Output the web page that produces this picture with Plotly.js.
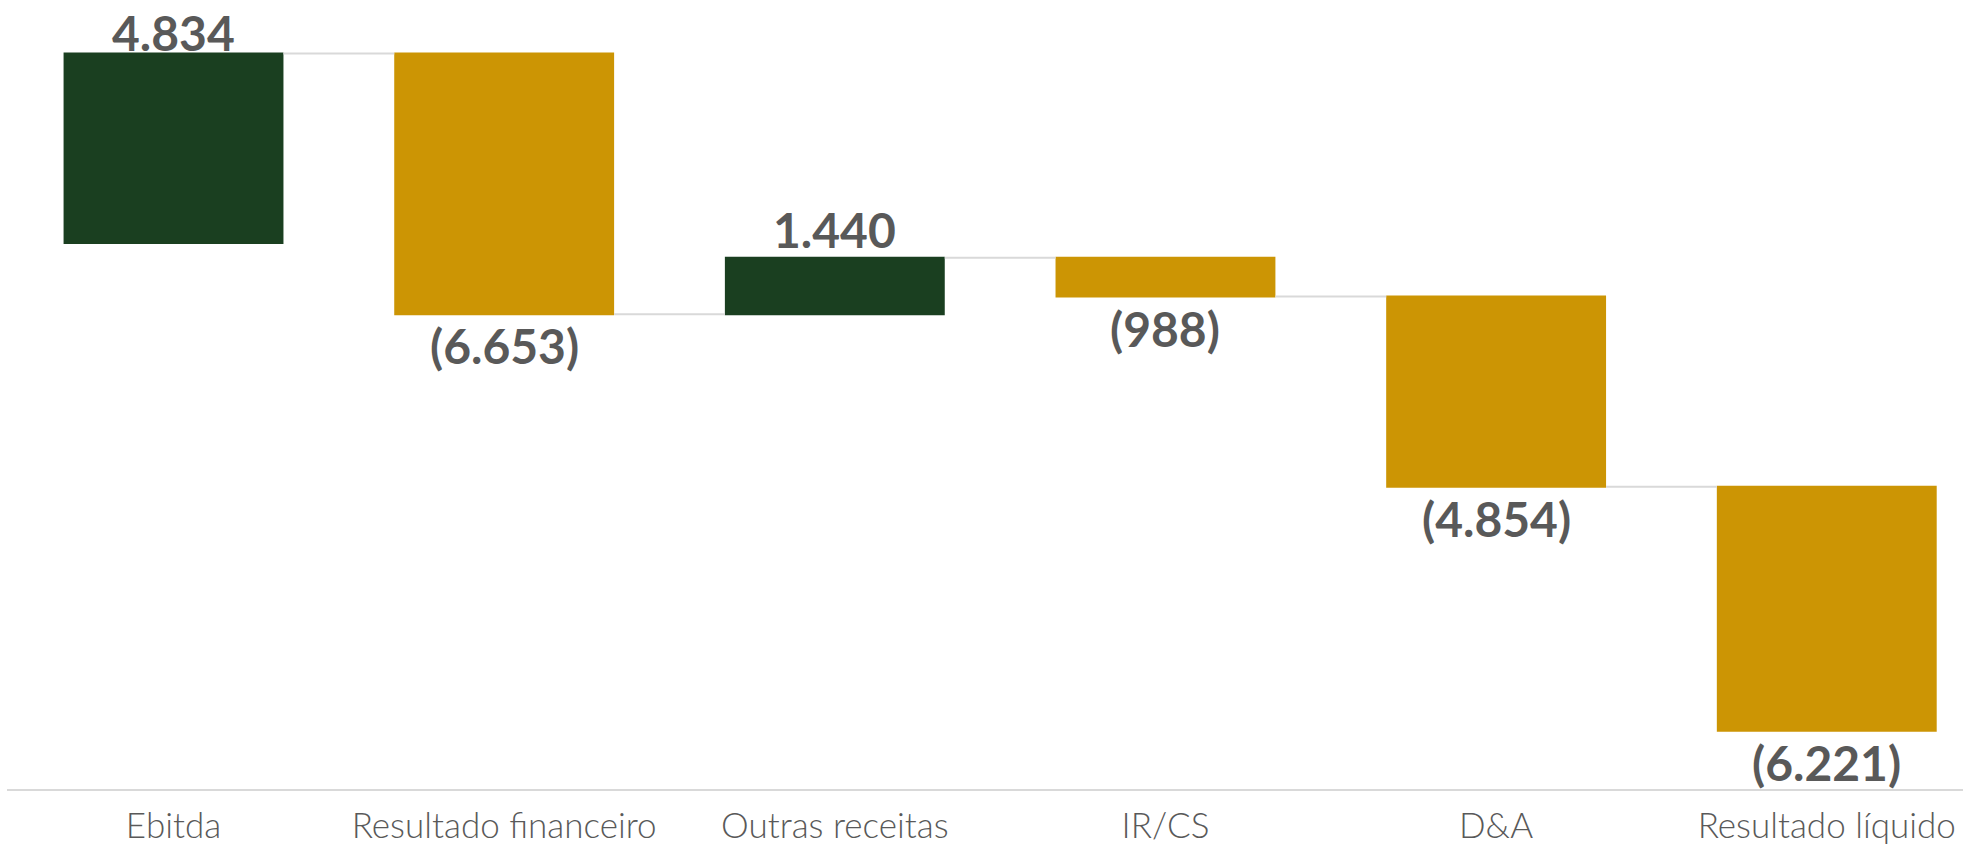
<!DOCTYPE html>
<html>
<head>
<meta charset="utf-8">
<script src="https://cdn.plot.ly/plotly-3.0.1.min.js"></script>
<style>
  html, body { margin: 0; padding: 0; background: #ffffff; }
  #chart { width: 1963px; height: 845px; }
</style>
</head>
<body>
<div id="chart"></div>
<script>
// Data
const categories = ["Ebitda", "Resultado financeiro", "Outras receitas", "IR/CS", "D&A", "Resultado líquido"];
const values = [4834, -6653, 1440, -988, -4854, -6221];
const valueLabels = ["4.834", "(6.653)", "1.440", "(988)", "(4.854)", "(6.221)"];

const yRange = [-13931, 6197];
const plotHeightPx = 789;
const unitsPerPx = (yRange[1] - yRange[0]) / plotHeightPx;
const labelFont = { family: "Lato, 'Open Sans', sans-serif", size: 48, color: "#595959", weight: 700 };

// Labels placed at each bar's end (cumulative sum), clamped inside the plot top like Excel does
const annotations = [];
let running = 0;
values.forEach((v, i) => {
  running += v;
  const a = {
    x: categories[i], y: running, xref: "x", yref: "y",
    text: valueLabels[i], showarrow: false, font: labelFont
  };
  if (v >= 0) {
    if (running + 62 * unitsPerPx > yRange[1]) {
      a.y = yRange[1]; a.yanchor = "top"; a.yshift = -2;
    } else {
      a.yanchor = "bottom"; a.yshift = -2;
    }
  } else {
    a.yanchor = "top"; a.yshift = -1;
  }
  annotations.push(a);
});

const trace = {
  type: "waterfall",
  x: categories,
  y: values,
  measure: categories.map(() => "relative"),
  increasing: { marker: { color: "#1A3F20" } },
  decreasing: { marker: { color: "#CC9504" } },
  connector: { mode: "between", line: { color: "#D9D9D9", width: 2 } },
  hoverinfo: "skip"
};

const layout = {
  width: 1963,
  height: 845,
  margin: { l: 7, r: 0, t: 0, b: 56 },
  paper_bgcolor: "#ffffff",
  plot_bgcolor: "#ffffff",
  showlegend: false,
  waterfallgap: 0.335,
  annotations: annotations,
  xaxis: {
    type: "category",
    range: [-0.5036, 5.412],
    showline: true,
    linecolor: "#D9D9D9",
    linewidth: 2,
    showgrid: false,
    zeroline: false,
    ticks: "",
    ticklabelstandoff: 5,
    tickfont: { family: "Lato, 'Open Sans', sans-serif", size: 35, color: "#595959", weight: 300 },
    fixedrange: true
  },
  yaxis: {
    range: yRange,
    showgrid: false,
    zeroline: false,
    showticklabels: false,
    showline: false,
    ticks: "",
    fixedrange: true
  }
};

Plotly.newPlot("chart", [trace], layout, { displayModeBar: false, staticPlot: true });
</script>
</body>
</html>
